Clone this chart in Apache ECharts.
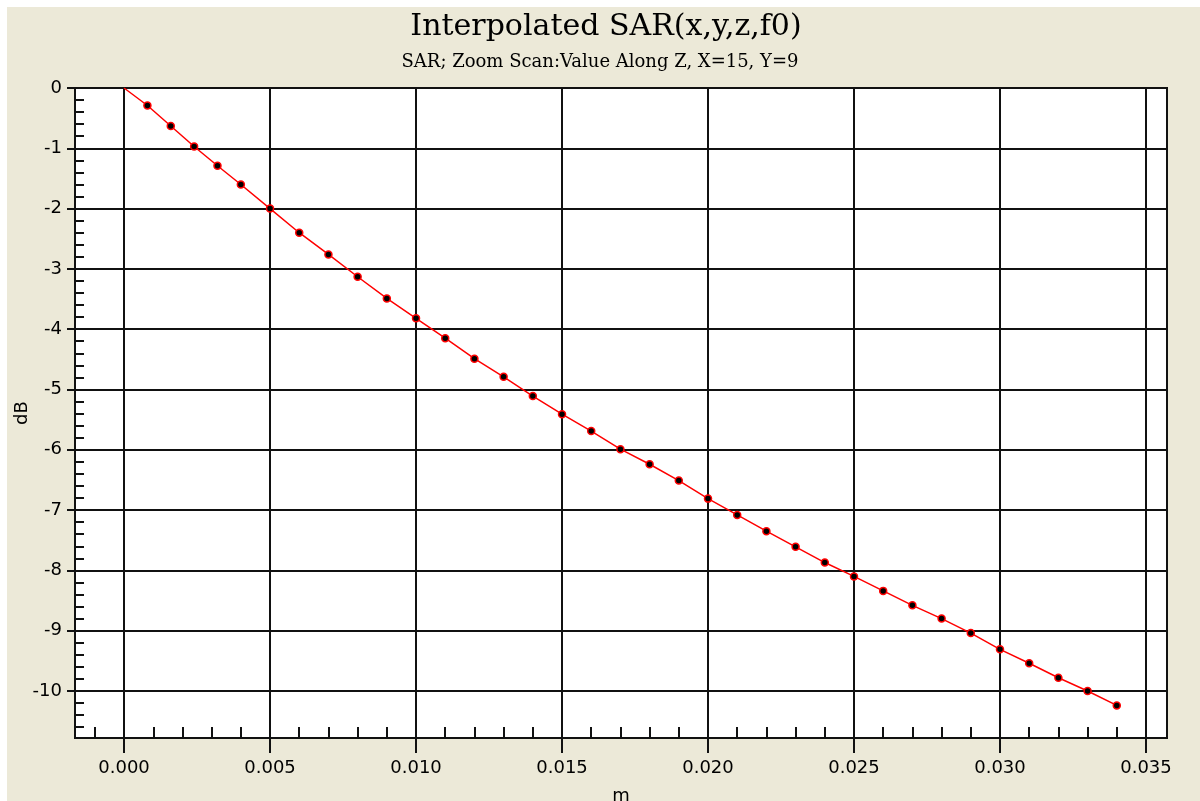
<!DOCTYPE html>
<html>
<head>
<meta charset="utf-8">
<script src="https://cdn.jsdelivr.net/npm/echarts@6/dist/echarts.min.js"></script>
<style>
  html, body { margin: 0; padding: 0; background: #ffffff; }
  #bg { position: absolute; left: 7px; top: 7px; width: 1193px; height: 794px; background: #ECE9D8; }
  #chart { position: absolute; left: 0; top: 0; width: 1200px; height: 801px; }
</style>
</head>
<body>
<div id="bg"></div>
<div id="chart"></div>
<script>
// ---- data ----
const titleText = 'Interpolated SAR(x,y,z,f0)';
const subtitleText = 'SAR; Zoom Scan:Value Along Z, X=15, Y=9';
const xName = 'm';
const yName = 'dB';

const xValues = [0, 0.0008, 0.0016, 0.0024, 0.0032, 0.004, 0.005, 0.006, 0.007, 0.008,
  0.009, 0.010, 0.011, 0.012, 0.013, 0.014, 0.015, 0.016, 0.017, 0.018,
  0.019, 0.020, 0.021, 0.022, 0.023, 0.024, 0.025, 0.026, 0.027, 0.028,
  0.029, 0.030, 0.031, 0.032, 0.033, 0.034];
const yValues = [0, -0.29, -0.63, -0.97, -1.29, -1.60, -2.00, -2.40, -2.76, -3.13,
  -3.49, -3.82, -4.15, -4.49, -4.79, -5.11, -5.41, -5.69, -5.99, -6.24,
  -6.51, -6.81, -7.08, -7.35, -7.61, -7.87, -8.10, -8.34, -8.58, -8.80,
  -9.04, -9.31, -9.54, -9.78, -10.00, -10.24];

const xMajorTicks = [0, 0.005, 0.010, 0.015, 0.020, 0.025, 0.030, 0.035];
const xMinorTicks = [-0.001, 0.001, 0.002, 0.003, 0.004, 0.006, 0.007, 0.008, 0.009,
  0.011, 0.012, 0.013, 0.014, 0.016, 0.017, 0.018, 0.019, 0.021, 0.022, 0.023, 0.024,
  0.026, 0.027, 0.028, 0.029, 0.031, 0.032, 0.033, 0.034];
const yMajorTicks = [0, -1, -2, -3, -4, -5, -6, -7, -8, -9, -10];
const yMinorTicks = [-0.2, -0.4, -0.6, -0.8, -1.2, -1.4, -1.6, -1.8, -2.2, -2.4, -2.6, -2.8,
  -3.2, -3.4, -3.6, -3.8, -4.2, -4.4, -4.6, -4.8, -5.2, -5.4, -5.6, -5.8,
  -6.2, -6.4, -6.6, -6.8, -7.2, -7.4, -7.6, -7.8, -8.2, -8.4, -8.6, -8.8,
  -9.2, -9.4, -9.6, -9.8, -10.2, -10.4, -10.6];
const xMin = -0.00168, xMax = 0.03572;
const yMin = -10.78, yMax = 0;

// ---- chart ----
const chart = echarts.init(document.getElementById('chart'));
const seriesData = xValues.map((x, i) => i === 0 ? { value: [x, yValues[i]], symbol: 'none' } : [x, yValues[i]]);
const lineCol = '#111111';

chart.setOption({
  animation: false,
  backgroundColor: 'transparent',
  graphic: [
    { type: 'text', x: 606, y: 27, style: { text: titleText, font: '30px "DejaVu Serif"', fill: '#000', textAlign: 'center', textVerticalAlign: 'middle' } },
    { type: 'text', x: 600, y: 62, style: { text: subtitleText, font: '18px "DejaVu Serif"', fill: '#000', textAlign: 'center', textVerticalAlign: 'middle' } }
  ],
  grid: {
    left: 75, right: 33, top: 88, bottom: 63,
    containLabel: false, outerBoundsMode: 'none',
    show: true, backgroundColor: '#ffffff', borderColor: lineCol, borderWidth: 2
  },
  xAxis: [
    {
      type: 'value', min: xMin, max: xMax, position: 'bottom',
      name: xName, nameLocation: 'middle', nameGap: 49,
      nameTextStyle: { fontFamily: 'DejaVu Sans', fontSize: 18, color: '#000' },
      axisLine: { show: true, onZero: false, lineStyle: { color: lineCol, width: 2 } },
      axisTick: { show: true, customValues: xMajorTicks, length: 15, lineStyle: { color: lineCol, width: 2 } },
      axisLabel: { customValues: xMajorTicks, formatter: v => v.toFixed(3), margin: 21,
        fontFamily: 'DejaVu Sans', fontSize: 18, color: '#000' },
      splitLine: { show: true, lineStyle: { color: lineCol, width: 2 } }
    },
    {
      type: 'value', min: xMin, max: xMax, position: 'bottom',
      axisLine: { show: false, onZero: false },
      axisTick: { show: true, inside: true, customValues: xMinorTicks, length: 11, lineStyle: { color: lineCol, width: 2 } },
      axisLabel: { show: false },
      splitLine: { show: false }
    }
  ],
  yAxis: [
    {
      type: 'value', min: yMin, max: yMax, position: 'left',
      name: yName, nameLocation: 'middle', nameGap: 44, nameMoveOverlap: false,
      nameTextStyle: { fontFamily: 'DejaVu Sans', fontSize: 18, color: '#000' },
      axisLine: { show: true, onZero: false, lineStyle: { color: lineCol, width: 2 } },
      axisTick: { show: true, customValues: yMajorTicks, length: 8, lineStyle: { color: lineCol, width: 2 } },
      axisLabel: { customValues: yMajorTicks, formatter: v => String(Math.round(v)), margin: 13,
        fontFamily: 'DejaVu Sans', fontSize: 18, color: '#000' },
      splitLine: { show: true, lineStyle: { color: lineCol, width: 2 } }
    },
    {
      type: 'value', min: yMin, max: yMax, position: 'left',
      axisLine: { show: false, onZero: false },
      axisTick: { show: true, inside: true, customValues: yMinorTicks, length: 9, lineStyle: { color: lineCol, width: 2 } },
      axisLabel: { show: false },
      splitLine: { show: false }
    }
  ],
  series: [{
    type: 'line',
    xAxisIndex: 0, yAxisIndex: 0,
    data: seriesData,
    symbol: 'circle', symbolSize: 7,
    lineStyle: { color: '#ff0000', width: 1.5 },
    itemStyle: { color: '#000000', borderColor: '#ff0000', borderWidth: 1.5 },
    z: 5
  }]
});
</script>
</body>
</html>
